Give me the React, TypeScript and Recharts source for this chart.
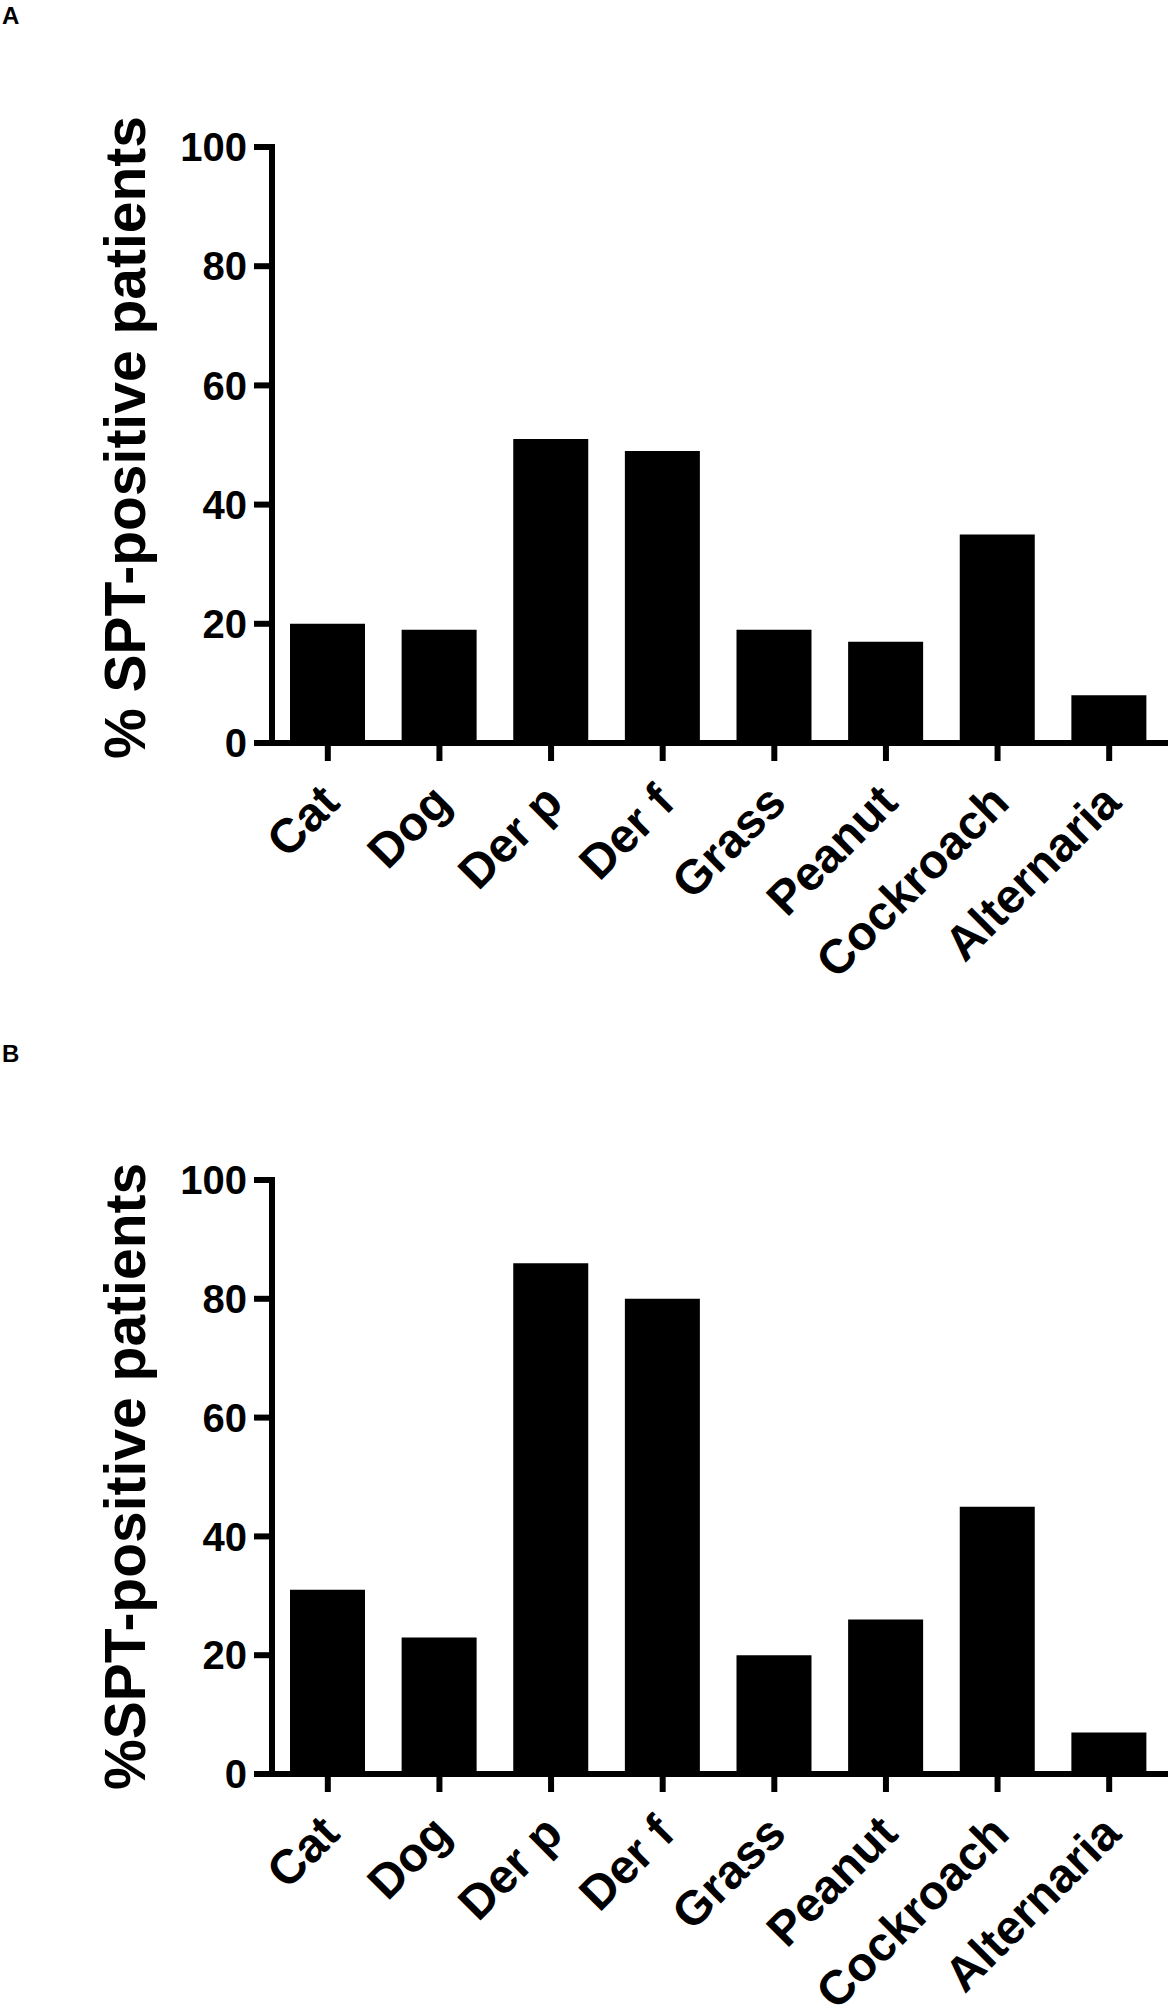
import React from 'react';
import { BarChart, Bar, XAxis, YAxis, Label } from 'recharts';

const categories = ['Cat', 'Dog', 'Der p', 'Der f', 'Grass', 'Peanut', 'Cockroach', 'Alternaria'];
const valuesA = [20, 19, 51, 49, 19, 17, 35, 8];
const valuesB = [31, 23, 86, 80, 20, 26, 45, 7];
const yTicks = [0, 20, 40, 60, 80, 100];
const labelA = '% SPT-positive patients';
const labelB = '%SPT-positive patients';

const FONT = '"Liberation Sans", Arial, Helvetica, sans-serif';

const dataA = categories.map((c, i) => ({ name: c, value: valuesA[i] }));
const dataB = categories.map((c, i) => ({ name: c, value: valuesB[i] }));

const XTick = (props: any) => {
  const { x, y, payload } = props;
  const ax = x + 14;
  const ay = y + 42;
  return (
    <text
      x={ax}
      y={ay}
      transform={`rotate(-45, ${ax}, ${ay})`}
      textAnchor="end"
      fontFamily={FONT}
      fontWeight="bold"
      fontSize={48}
      fill="#000"
    >
      {payload.value}
    </text>
  );
};

const YLabel = (text: string) => (props: any) => {
  const vb = props.viewBox || {};
  const lx = (vb.x || 0) + 145;
  const ly = (vb.y || 0) + (vb.height || 0) + 16;
  return (
    <text
      x={lx}
      y={ly}
      transform={`rotate(-90, ${lx}, ${ly})`}
      textAnchor="start"
      fontFamily={FONT}
      fontWeight="bold"
      fontSize={57}
      fill="#000"
    >
      {text}
    </text>
  );
};

const axisStyle = { stroke: '#000', strokeWidth: 6, strokeLinecap: 'square' as const };
const tickStyle = { stroke: '#000', strokeWidth: 6 };

const Panel = ({ data, label, top, height, marginTop, plotBottom }: any) => (
  <div style={{ position: 'absolute', left: 0, top, width: 1172, height }}>
    <BarChart
      width={1172}
      height={height}
      data={data}
      margin={{ top: marginTop, right: 7, left: 0, bottom: height - plotBottom - 200 }}
      barSize={75}
    >
      <XAxis
        dataKey="name"
        interval={0}
        height={200}
        tickSize={18}
        tickMargin={2}
        axisLine={axisStyle}
        tickLine={tickStyle}
        tick={<XTick />}
      />
      <YAxis
        type="number"
        domain={[0, 100]}
        ticks={yTicks}
        width={272}
        tickSize={18}
        tickMargin={7}
        axisLine={axisStyle}
        tickLine={tickStyle}
        tick={{ fontSize: 40, fontWeight: 'bold', fill: '#000', fontFamily: FONT }}
      >
        <Label content={YLabel(label)} />
      </YAxis>
      <Bar dataKey="value" fill="#000" isAnimationActive={false} />
    </BarChart>
  </div>
);

export default function App() {
  return (
    <div style={{ position: 'absolute', left: 0, top: 0, width: 1172, height: 2009, background: '#fff', overflow: 'hidden' }}>
      <Panel data={dataA} label={labelA} top={0} height={1020} marginTop={147} plotBottom={743} />
      <Panel data={dataB} label={labelB} top={1020} height={989} marginTop={160} plotBottom={754} />
      <svg width={1172} height={2009} style={{ position: 'absolute', left: 0, top: 0, pointerEvents: 'none' }}>
        <text x={2} y={24} fontFamily={FONT} fontWeight="bold" fontSize={24} fill="#000">A</text>
        <text x={2} y={1062} fontFamily={FONT} fontWeight="bold" fontSize={24} fill="#000">B</text>
      </svg>
    </div>
  );
}
